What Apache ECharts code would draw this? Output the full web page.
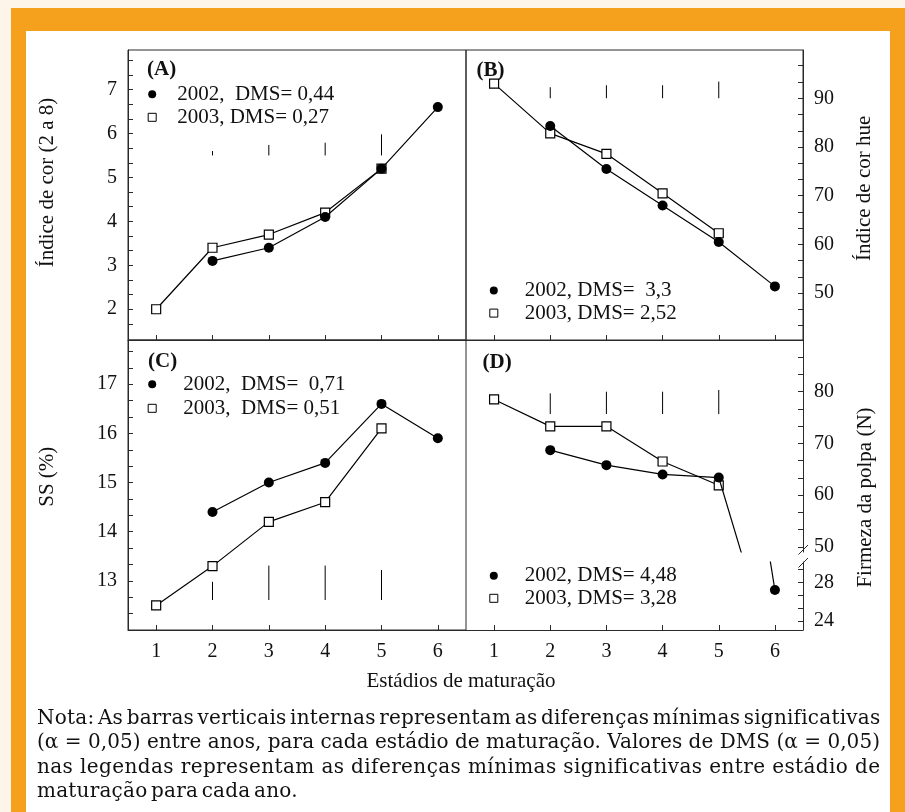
<!DOCTYPE html>
<html><head><meta charset="utf-8">
<script src="https://cdn.jsdelivr.net/npm/echarts@6/dist/echarts.min.js"></script>
<style>
html,body{margin:0;padding:0;width:905px;height:812px;overflow:hidden;background:#FEF5EA;}
#frame{position:absolute;left:11px;top:8px;width:894px;height:804px;background:#F6A11E;}
#inner{position:absolute;left:26px;top:31px;width:864px;height:781px;background:#ffffff;}
#chart{position:absolute;left:0;top:0;width:905px;height:812px;}
#note{position:absolute;left:37px;top:705px;width:860px;font-family:"DejaVu Serif",serif;font-size:20px;line-height:24.3px;color:#111;}
#note div{white-space:nowrap;height:24.3px;}
#note span{display:inline-block;white-space:nowrap;}
</style></head>
<body>
<div id="frame"></div>
<div id="inner"></div>
<div id="chart"></div>
<div id="note">
<div><span class="fit tight">Nota: As barras verticais internas representam as diferenças mínimas significativas</span></div>
<div><span class="fit">(α = 0,05) entre anos, para cada estádio de maturação. Valores de DMS (α = 0,05)</span></div>
<div><span class="fit">nas legendas representam as diferenças mínimas significativas entre estádio de</span></div>
<div><span class="last tight">maturação para cada ano.</span></div>
</div>
<script>
// ---------- data ----------
const stages = ['1', '2', '3', '4', '5', '6'];

const corA2002 = [null, 3.1, 3.4, 4.1, 5.2, 6.6];
const corA2003 = [2.0, 3.4, 3.7, 4.2, 5.2, null];
const hueB2002 = [null, 84.3, 75.5, 68.0, 60.5, 51.4];
const hueB2003 = [93.0, 82.8, 78.6, 70.5, 62.3, null];
const ssC2002 = [null, 14.4, 15.0, 15.4, 16.6, 15.9];
const ssC2003 = [12.5, 13.3, 14.2, 14.6, 16.1, null];
const firmD2002 = [null, 68.7, 65.8, 64.0, 63.4, 27.2];
const firmD2003 = [78.5, 73.3, 73.3, 66.5, 61.9, null];

// DMS bars between years (stages 2..5): base value and bar length
const dmsStageIdx = [1, 2, 3, 4];
const dmsBaseA = 5.5, dmsA = [0.1, 0.24, 0.29, 0.48];
const dmsBaseB = 90, dmsB = [2.26, 2.67, 2.67, 3.42];
const dmsBaseC = 12.61, dmsC = [0.37, 0.7, 0.7, 0.61];
const dmsBaseD = 75.68, dmsD = [4.0, 4.32, 4.32, 4.65];

// legend texts
const legA = ['2002,  DMS= 0,44', '2003, DMS= 0,27'];
const legB = ['2002, DMS=  3,3', '2003, DMS= 2,52'];
const legC = ['2002,  DMS=  0,71', '2003,  DMS= 0,51'];
const legD = ['2002, DMS= 4,48', '2003, DMS= 3,28'];

// axis tick labels
const labelsA = [2, 3, 4, 5, 6, 7];
const labelsB = [50, 60, 70, 80, 90];
const labelsC = [13, 14, 15, 16, 17];
const labelsDup = [50, 60, 70, 80];
const labelsDlow = [24, 28];
const ticksA = [1.667, 2, 2.333, 2.667, 3, 3.333, 3.667, 4, 4.333, 4.667, 5, 5.333, 5.667, 6, 6.333, 6.667, 7, 7.333, 7.667];
const ticksB = [43.33, 46.67, 50, 53.33, 56.67, 60, 63.33, 66.67, 70, 73.33, 76.67, 80, 83.33, 86.67, 90, 93.33, 96.67];
const ticksC = [12.333, 12.667, 13, 13.333, 13.667, 14, 14.333, 14.667, 15, 15.333, 15.667, 16, 16.333, 16.667, 17, 17.333, 17.667];
const ticksDup = [50, 53.33, 56.67, 60, 63.33, 66.67, 70, 73.33, 76.67, 80, 83.33, 86.67];
const ticksDlow = [24, 25.33, 26.67, 28, 29.33];

// ---------- note text fitting (justify each line to the reference width) ----------
(function fitNote() {
  const W = 843;
  const spans = Array.from(document.querySelectorAll('#note span'));
  spans.forEach(s => { if (s.classList.contains('tight')) s.style.wordSpacing = '-3px'; });
  let ls = [];
  spans.filter(s => s.classList.contains('fit')).forEach(s => {
    s.style.letterSpacing = '0px';
    const w = s.getBoundingClientRect().width;
    const n = s.textContent.length;
    const v = (W - w) / n;
    s.style.letterSpacing = v + 'px';
    ls.push(v);
  });
  const avg = ls.reduce((a, b) => a + b, 0) / ls.length;
  spans.filter(s => s.classList.contains('last')).forEach(s => { s.style.letterSpacing = avg + 'px'; });
})();

// ---------- styles ----------
const SERIF = '"Liberation Serif","Times New Roman",serif';
const AX = '#2a2a2a';
const TXT = '#111';

const grids = [
  {left: 128, top: 50, width: 338, height: 290, show: true, borderColor: AX, borderWidth: 1},
  {left: 466, top: 50, width: 337, height: 290, show: true, borderColor: AX, borderWidth: 1},
  {left: 128, top: 340, width: 338, height: 290, show: true, borderColor: AX, borderWidth: 1},
  {left: 466, top: 340, width: 337, height: 212, show: false},
  {left: 466, top: 562, width: 337, height: 68, show: false}
];

function xAx(gi, labels, show) {
  return {
    gridIndex: gi, type: 'category', data: stages, boundaryGap: true, show: show !== false,
    axisLine: {show: true, lineStyle: {color: AX, width: 1}},
    axisTick: {show: true, inside: true, alignWithLabel: true, length: 5, lineStyle: {color: AX}},
    axisLabel: {show: labels, margin: 12, color: TXT, fontFamily: SERIF, fontSize: 20},
    splitLine: {show: false}
  };
}
function yAx(gi, pos, min, max, labels, ticks) {
  return {
    gridIndex: gi, type: 'value', position: pos, min: min, max: max,
    axisLine: {show: true, lineStyle: {color: AX, width: 1}},
    axisTick: {show: true, inside: true, length: 5, customValues: ticks, lineStyle: {color: AX}},
    axisLabel: {show: true, customValues: labels, margin: 11, color: TXT, fontFamily: SERIF, fontSize: 20},
    splitLine: {show: false}
  };
}

function lineS(name, data, gi, filled) {
  return {
    type: 'line', name: name, data: data, xAxisIndex: gi, yAxisIndex: gi,
    symbol: filled ? 'circle' : 'rect', symbolSize: filled ? 10 : 9, showAllSymbol: true,
    clip: true, animation: false, connectNulls: false, z: filled ? 3 : 2,
    lineStyle: {color: '#000', width: 1.2},
    itemStyle: filled ? {color: '#000'} : {color: '#fff', borderColor: '#000', borderWidth: 1.2},
    emphasis: {disabled: true}
  };
}
function dmsS(gi, base, lens) {
  return {
    type: 'custom', xAxisIndex: gi, yAxisIndex: gi, silent: true, animation: false, z: 1,
    data: lens.map((l, i) => [dmsStageIdx[i], base, l]),
    renderItem: function (params, api) {
      const p0 = api.coord([api.value(0), api.value(1)]);
      const p1 = api.coord([api.value(0), api.value(1) + api.value(2)]);
      return {type: 'line', shape: {x1: p0[0], y1: p0[1], x2: p1[0], y2: p1[1]},
        style: {stroke: '#000', lineWidth: 1}};
    }
  };
}
function legendOf(names, left, top, pad, rowH) {
  return {
    orient: 'vertical', left: left, top: top, itemWidth: 8, itemHeight: 8, itemGap: 0,
    selectedMode: false, padding: 0,
    textStyle: {fontFamily: SERIF, fontSize: 21, color: TXT, lineHeight: rowH, padding: [0, 0, 0, pad]},
    data: [
      {name: names[0], icon: 'circle', itemStyle: {color: '#000', borderWidth: 0}},
      {name: names[1], icon: 'rect', itemStyle: {color: '#fff', borderColor: '#000', borderWidth: 1}}
    ]
  };
}
function txt(text, x, y, opts) {
  opts = opts || {};
  return {
    type: 'text', x: x, y: y, rotation: opts.rot || 0, silent: true,
    style: {text: text, fill: TXT, font: (opts.bold ? 'bold ' : '') + (opts.size || 21) + 'px ' + SERIF,
      textAlign: opts.align || 'center', textVerticalAlign: 'middle'}
  };
}

const option = {
  backgroundColor: 'transparent',
  animation: false,
  grid: grids,
  xAxis: [xAx(0, false), xAx(1, false), xAx(2, true), xAx(3, false, false), xAx(4, true)],
  yAxis: [
    yAx(0, 'left', 1.3, 7.9, labelsA, ticksA),
    yAx(1, 'right', 40.4, 99.9, labelsB, ticksB),
    yAx(2, 'left', 12, 17.9, labelsC, ticksC),
    yAx(3, 'right', 49.0, 90, labelsDup, ticksDup),
    yAx(4, 'right', 23.07, 30.1, labelsDlow, ticksDlow)
  ],
  legend: [
    legendOf(legA, 147.7, 82.8, 16, 23),
    legendOf(legB, 489.3, 279.2, 22, 22.6),
    legendOf(legC, 147.7, 372.3, 22, 24),
    legendOf(legD, 489.3, 564.4, 22, 22.6)
  ],
  series: [
    dmsS(0, dmsBaseA, dmsA),
    lineS(legA[0], corA2002, 0, true),
    lineS(legA[1], corA2003, 0, false),
    dmsS(1, dmsBaseB, dmsB),
    lineS(legB[0], hueB2002, 1, true),
    lineS(legB[1], hueB2003, 1, false),
    dmsS(2, dmsBaseC, dmsC),
    lineS(legC[0], ssC2002, 2, true),
    lineS(legC[1], ssC2003, 2, false),
    dmsS(3, dmsBaseD, dmsD),
    lineS(legD[0], firmD2002, 3, true),
    lineS(legD[1], firmD2003, 3, false),
    lineS(legD[0], firmD2002, 4, true),
    lineS(legD[1], firmD2003, 4, false)
  ],
  graphic: [
    txt('(A)', 147, 70, {bold: true, align: 'left'}),
    txt('(B)', 476.5, 70.5, {bold: true, align: 'left'}),
    txt('(C)', 148, 362, {bold: true, align: 'left'}),
    txt('(D)', 482.5, 362.5, {bold: true, align: 'left'}),
    txt('Índice de cor (2 a 8)', 47.5, 182.5, {rot: Math.PI / 2}),
    txt('Índice de cor hue', 864, 188.3, {rot: Math.PI / 2}),
    txt('SS (%)', 47.5, 476.7, {rot: Math.PI / 2}),
    txt('Firmeza da polpa (N)', 865, 497.5, {rot: Math.PI / 2}),
    txt('Estádios de maturação', 461, 681),
    {type: 'line', silent: true, shape: {x1: 798.5, y1: 554.5, x2: 808, y2: 545}, style: {stroke: AX, lineWidth: 1}},
    {type: 'line', silent: true, shape: {x1: 798.5, y1: 567.5, x2: 808, y2: 558}, style: {stroke: AX, lineWidth: 1}}
  ]
};

const chart = echarts.init(document.getElementById('chart'), null, {renderer: 'canvas'});
chart.setOption(option);
</script>
</body></html>
